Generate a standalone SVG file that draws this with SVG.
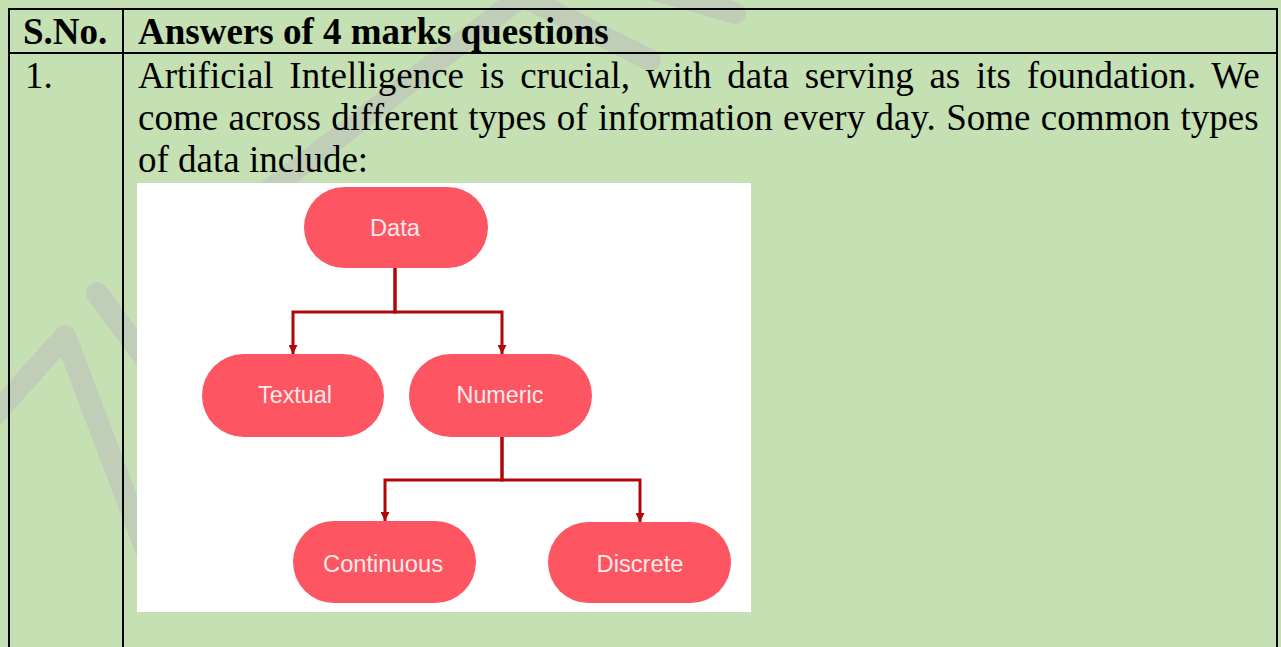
<svg xmlns="http://www.w3.org/2000/svg" width="1281" height="647" viewBox="0 0 1281 647">
  <style>
    .wm { fill: none; stroke: #c0ceb8; stroke-width: 22; stroke-linecap: round; stroke-linejoin: round; }
    .grid { stroke: #000; stroke-width: 2; fill: none; }
    .hdr { font-family: "Liberation Serif", "Times New Roman", serif; font-weight: bold; font-size: 37px; fill: #000; }
    .body { font-family: "Liberation Serif", "Times New Roman", serif; font-size: 37px; fill: #000; }
    .pill { fill: #fd5562; }
    .lbl { font-family: "Liberation Sans", Arial, sans-serif; font-size: 23px; fill: #fdeaea; text-anchor: middle; }
    .conn { fill: none; stroke: #b00808; stroke-width: 3; }
  </style>
  <defs>
    <marker id="arrow" viewBox="0 0 10 10" refX="10" refY="5" markerUnits="userSpaceOnUse" markerWidth="10" markerHeight="9" orient="auto">
      <path d="M0,0 L10,5 L0,10 z" fill="#b00808"/>
    </marker>
  </defs>

  <rect x="0" y="0" width="1281" height="647" fill="#c5e0b3"/>

  <g id="watermark">
    <polyline class="wm" points="-10,420 65,336 150,560"/>
    <line class="wm" x1="97" y1="293" x2="150" y2="365"/>
    <line class="wm" x1="250" y1="205" x2="530" y2="-10"/>
    <line class="wm" x1="510" y1="-10" x2="650" y2="60"/>
    <line class="wm" x1="620" y1="-20" x2="735" y2="13"/>
  </g>

  <g id="table">
    <line class="grid" x1="8" y1="9" x2="1278" y2="9"/>
    <line class="grid" x1="8" y1="53" x2="1278" y2="53"/>
    <line class="grid" x1="9" y1="8" x2="9" y2="647"/>
    <line class="grid" x1="123" y1="8" x2="123" y2="647"/>
    <line class="grid" x1="1277" y1="8" x2="1277" y2="647"/>
  </g>

  <g id="header">
    <text class="hdr" x="23" y="44">S.No.</text>
    <text class="hdr" x="138" y="44">Answers of 4 marks questions</text>
  </g>

  <g id="answer">
    <text class="body" x="25" y="88">1.</text>
    <text class="body" x="138" y="88" word-spacing="6.5">Artificial Intelligence is crucial, with data serving as its foundation. We</text>
    <text class="body" x="138" y="130" word-spacing="1.1">come across different types of information every day. Some common types</text>
    <text class="body" x="138" y="172">of data include:</text>
  </g>

  <rect id="figure-bg" x="137" y="183" width="614" height="429" fill="#ffffff"/>

  <g id="connectors">
    <path class="conn" d="M395,267 V312 H293 V354" marker-end="url(#arrow)"/>
    <path class="conn" d="M395,267 V312 H502 V354" marker-end="url(#arrow)"/>
    <path class="conn" d="M502,437 V480 H385 V521" marker-end="url(#arrow)"/>
    <path class="conn" d="M502,437 V480 H640 V522" marker-end="url(#arrow)"/>
  </g>

  <g id="node-data">
    <rect class="pill" x="304" y="187" width="184" height="81" rx="40.5"/>
    <text class="lbl" x="395" y="236" textLength="50" lengthAdjust="spacingAndGlyphs">Data</text>
  </g>
  <g id="node-textual">
    <rect class="pill" x="202" y="354" width="182" height="83" rx="41.5"/>
    <text class="lbl" x="295" y="403" textLength="74" lengthAdjust="spacingAndGlyphs">Textual</text>
  </g>
  <g id="node-numeric">
    <rect class="pill" x="409" y="354" width="183" height="83" rx="41.5"/>
    <text class="lbl" x="500" y="403" textLength="87" lengthAdjust="spacingAndGlyphs">Numeric</text>
  </g>
  <g id="node-continuous">
    <rect class="pill" x="293" y="521" width="183" height="82" rx="41"/>
    <text class="lbl" x="383" y="572" textLength="120" lengthAdjust="spacingAndGlyphs">Continuous</text>
  </g>
  <g id="node-discrete">
    <rect class="pill" x="548" y="522" width="183" height="81" rx="40.5"/>
    <text class="lbl" x="640" y="572" textLength="87" lengthAdjust="spacingAndGlyphs">Discrete</text>
  </g>
</svg>
